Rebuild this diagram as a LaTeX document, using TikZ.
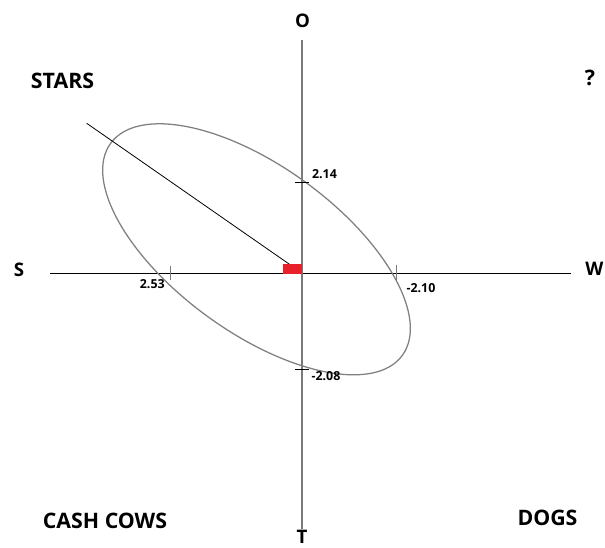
\documentclass[tikz,border=0pt]{standalone}
\usepackage{fontspec}
\setmainfont{Open Sans}
\definecolor{axgray}{HTML}{7A7A7A}
\definecolor{elgray}{HTML}{808080}
\definecolor{mred}{HTML}{E8202A}
\begin{document}
\begin{tikzpicture}[x=0.75pt,y=-0.75pt,
  corner/.style={inner sep=0pt,font=\fontsize{16}{18}\selectfont\bfseries},
  axlab/.style={inner sep=0pt,font=\fontsize{14}{16}\selectfont\bfseries},
  ticklab/.style={inner sep=0pt,font=\fontsize{9.3}{11}\selectfont\bfseries},
  tickmark/.style={axgray,line width=0.75pt}]
\useasboundingbox (0,0) rectangle (605,547);
% axes
\coordinate (hl) at (50,273);
\coordinate (hr) at (571,273);
\coordinate (vt) at (302,40);
\coordinate (vb) at (302,529);
\coordinate (o) at (302,273);
\draw[black,line width=0.75pt] (hl) -- (hr);
\draw[axgray,line width=0.9pt] (vt) -- (vb);
% ellipse
\coordinate (c) at (256.5,249.3);
\draw[elgray,line width=0.95pt,rotate around={-36:(c)}] (c) ellipse [x radius=180.3, y radius=83.1];
% diagonal line
\coordinate (d) at (86.7,123.3);
\draw[black,line width=0.6pt] (d) -- (o);
% red rectangle
\fill[mred] (283,264) rectangle (302,273.5);
% ticks
\coordinate (t1) at (170,273);
\coordinate (t2) at (396,273);
\coordinate (t3) at (302,182);
\coordinate (t4) at (302,369);
\draw[tickmark] ([yshift=-5]t1) -- ([yshift=5]t1);
\draw[tickmark] ([yshift=-6]t2) -- ([yshift=6]t2);
\draw[black,line width=0.75pt] ([xshift=-5]t3) -- ([xshift=5]t3);
\draw[black,line width=0.75pt] ([xshift=-5]t4) -- ([xshift=5]t4);
% tick labels
\node[ticklab] (l1) at (152.3,284) {2.53};
\node[ticklab] (l2) at (421,288) {-2.10};
\node[ticklab] (l3) at (324.5,174) {2.14};
\node[ticklab] (l4) at (326,376) {-2.08};
% axis labels
\node[axlab] (O) at (302.5,21) {O};
\node[axlab] (T) at (302,537) {T};
\node[axlab] (S) at (19,270) {S};
\node[axlab,anchor=west] (W) at (585,269) {W};
% quadrant labels
\node[corner] (stars) at (62.5,81) {STARS};
\node[corner] (q) at (590,78) {?};
\node[corner] (cash) at (105,520.5) {CASH COWS};
\node[corner] (dogs) at (547.5,517.5) {DOGS};
\end{tikzpicture}
\end{document}
